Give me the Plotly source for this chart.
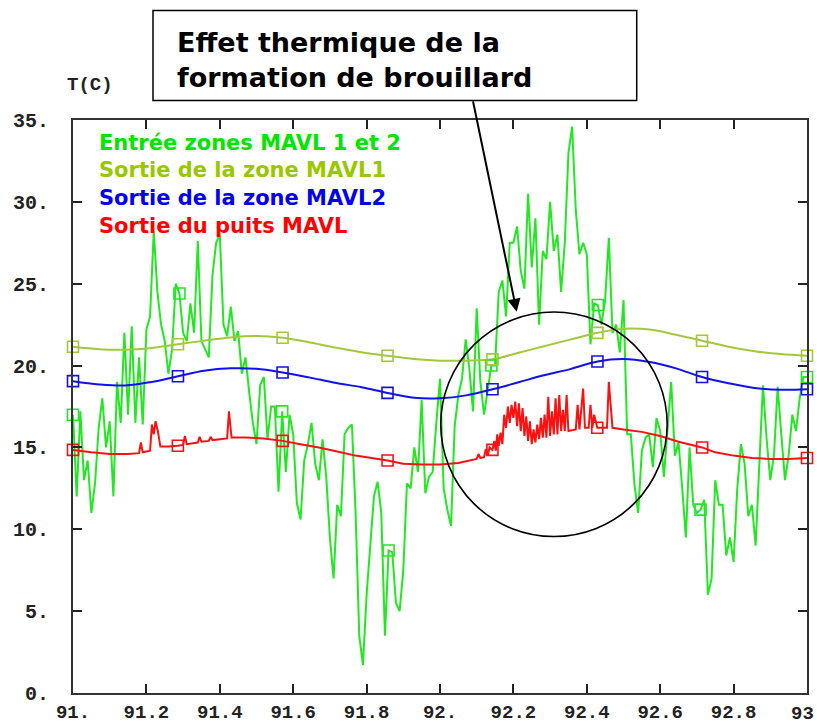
import numpy as np
import plotly.graph_objects as go

# ---- time axis (years) -------------------------------------------------
T_START, T_STEP = 91.0, 0.01

# Inlet temperature of zones MAVL 1 and 2 (°C), one value per time step
entree_zones = [
    17.0, 12.0, 17.2, 13.0, 14.2, 11.0, 12.8, 16.2, 18.0, 15.0,
    16.6, 12.0, 19.0, 16.5, 22.0, 17.0, 22.4, 16.5, 20.5, 16.4,
    22.2, 23.0, 28.2, 24.5, 22.5, 21.5, 19.5, 21.0, 25.0, 24.4,
    22.0, 21.5, 23.8, 22.0, 27.6, 21.5, 21.0, 20.5, 25.5, 27.5,
    28.0, 22.5, 21.8, 23.6, 21.5, 22.1, 19.5, 20.5, 18.4, 16.5,
    15.2, 18.8, 19.3, 15.5, 17.5, 17.5, 12.3, 17.2, 13.5, 17.0,
    15.8, 11.6, 10.6, 14.2, 15.2, 16.5, 14.0, 13.0, 15.5, 13.2,
    9.5, 7.0, 11.5, 10.8, 15.8, 16.2, 16.4, 11.0, 3.5, 1.7,
    6.0, 8.8, 12.0, 12.9, 11.0, 3.5, 8.7, 8.6, 5.5, 5.0,
    7.5, 12.8, 12.5, 15.0, 13.5, 17.9, 12.2, 13.2, 13.5, 16.5,
    19.2, 12.5, 11.2, 10.2, 16.3, 18.2, 19.2, 21.6, 19.8, 17.2,
    23.5, 19.0, 17.0, 18.5, 20.0, 20.0, 24.5, 25.2, 23.0, 27.5,
    27.5, 28.5, 25.8, 24.7, 30.5, 26.0, 29.0, 22.5, 27.0, 26.5,
    30.0, 27.0, 28.0, 24.5, 27.5, 33.0, 34.6, 29.5, 26.8, 27.5,
    26.8, 21.3, 23.8, 23.7, 22.5, 24.0, 27.8, 22.0, 22.5, 20.8,
    24.0, 15.8, 15.8, 12.7, 11.0, 14.8, 15.6, 15.8, 13.8, 16.8,
    16.0, 13.2, 16.0, 19.0, 14.5, 15.3, 12.5, 9.5, 15.0, 11.5,
    11.0, 11.2, 11.8, 6.0, 7.0, 13.0, 11.5, 11.5, 8.4, 9.5,
    8.0, 12.5, 15.2, 14.0, 10.8, 11.5, 9.0, 14.2, 18.8, 15.5,
    13.0, 14.5, 18.7, 15.8, 13.0, 14.5, 17.0, 16.0, 18.0, 19.3,
    19.3,
]
t_entree = T_START + T_STEP * np.arange(len(entree_zones))

# Outlets of zones MAVL1 / MAVL2, sampled every 1/14 year
t_zones = [91.000, 91.071, 91.143, 91.214, 91.286, 91.357, 91.429, 91.500,
           91.571, 91.643, 91.714, 91.786, 91.857, 91.929, 92.000, 92.071,
           92.143, 92.214, 92.286, 92.357, 92.429, 92.500, 92.571, 92.643,
           92.714, 92.786, 92.857, 92.929, 93.000]
sortie_mavl1 = [21.15, 21.0, 20.97, 21.08, 21.3, 21.52, 21.72, 21.8,
                21.7, 21.43, 21.1, 20.82, 20.6, 20.4, 20.3, 20.3,
                20.38, 20.78, 21.2, 21.6, 22.0, 22.25, 22.2, 21.88,
                21.52, 21.15, 20.88, 20.7, 20.6]
sortie_mavl2 = [19.05, 18.85, 18.78, 19.0, 19.35, 19.68, 19.83, 19.8,
                19.58, 19.28, 18.95, 18.68, 18.33, 18.03, 18.0, 18.18,
                18.55, 18.98, 19.42, 19.8, 20.25, 20.4, 20.22, 19.83,
                19.3, 18.92, 18.63, 18.52, 18.55]

# Well outlet (°C)
t_puits = [
    91.000, 91.05, 91.10, 91.15, 91.18, 91.185, 91.19, 91.21, 91.215, 91.22,
    91.225, 91.232, 91.238, 91.26, 91.2857, 91.30, 91.305, 91.31, 91.34, 91.345,
    91.35, 91.37, 91.375, 91.38, 91.42, 91.425, 91.432, 91.47, 91.52, 91.5714,
    91.62, 91.67, 91.72, 91.77, 91.8571, 91.90, 91.95, 92.00, 92.05, 92.10,
    92.105, 92.11, 92.12, 92.125, 92.13, 92.135, 92.1429, 92.148, 92.152, 92.156,
    92.16, 92.165, 92.17, 92.175, 92.18, 92.185, 92.19, 92.195, 92.20, 92.205,
    92.21, 92.215, 92.22, 92.225, 92.23, 92.235, 92.24, 92.245, 92.25, 92.255,
    92.26, 92.265, 92.27, 92.275, 92.28, 92.285, 92.29, 92.295, 92.30, 92.305,
    92.31, 92.315, 92.32, 92.325, 92.33, 92.335, 92.34, 92.345, 92.35, 92.36,
    92.37, 92.375, 92.38, 92.39, 92.395, 92.405, 92.41, 92.415, 92.42, 92.4286,
    92.44, 92.455, 92.46, 92.47, 92.50, 92.55, 92.60, 92.65, 92.7143, 92.75,
    92.80, 92.85, 92.90, 92.95, 93.00,
]
sortie_puits = [
    14.85, 14.7, 14.6, 14.6, 14.65, 15.3, 14.7, 14.8, 16.4, 15.8,
    16.6, 15.9, 15.05, 15.05, 15.1, 15.15, 15.7, 15.2, 15.3, 15.65,
    15.35, 15.4, 15.65, 15.45, 15.55, 17.2, 15.6, 15.6, 15.55, 15.4,
    15.2, 15.0, 14.75, 14.5, 14.2, 14.0, 13.95, 13.95, 14.05, 14.3,
    14.6, 14.35, 14.4, 14.9, 14.5, 15.0, 14.85, 15.4, 14.8, 15.8,
    15.1, 15.9, 15.2, 17.0, 16.2, 17.5, 16.5, 17.6, 16.8, 17.8,
    16.3, 17.7, 16.0, 17.4, 15.7, 16.9, 15.4, 16.6, 15.2, 16.1,
    15.3, 16.4, 15.5, 16.8, 15.6, 17.0, 15.6, 18.1, 15.7, 17.2,
    15.8, 18.0, 15.8, 18.2, 16.0, 17.3, 16.0, 18.2, 16.0, 16.05,
    16.1, 17.6, 16.1, 18.6, 16.2, 16.2, 17.6, 16.2, 17.0, 16.2,
    16.2, 16.2, 19.0, 16.2, 16.1, 15.95, 15.7, 15.35, 15.0, 14.7,
    14.5, 14.35, 14.3, 14.3, 14.35,
]

# Symbol positions along each curve (every 2/7 year)
MARKER_T = [91 + k * 2 / 7 for k in range(8)]

X_TICKS = [91.0, 91.2, 91.4, 91.6, 91.8, 92.0, 92.2, 92.4, 92.6, 92.8, 93.0]
X_LABELS = ["91.", "91.2", "91.4", "91.6", "91.8", "92.", "92.2", "92.4",
            "92.6", "92.8", "93"]
Y_TICKS = [0, 5, 10, 15, 20, 25, 30, 35]
Y_LABELS = ["0.", "5.", "10.", "15.", "20.", "25.", "30.", "35."]

SERIES = [
    ("Entrée zones MAVL 1 et 2", t_entree, entree_zones, "#22E822", "#00E600", False),
    ("Sortie de la zone MAVL1", t_zones, sortie_mavl1, "#A2C83C", "#99C800", True),
    ("Sortie de la zone MAVL2", t_zones, sortie_mavl2, "#1010F0", "#0000F0", True),
    ("Sortie du puits MAVL", t_puits, sortie_puits, "#FF1010", "#FF0000", False),
]

TEXT_FONT = "DejaVu Sans"
MONO_FONT = "Liberation Mono"
TICK_FONT_X = dict(family=MONO_FONT, size=19, color="#222", weight="bold")


def marker_points(xs, ys):
    xs = np.asarray(xs, dtype=float)
    ys = np.asarray(ys, dtype=float)
    idx = [int(np.argmin(np.abs(xs - t))) for t in MARKER_T]
    return xs[idx], ys[idx]


fig = go.Figure()
for name, xs, ys, col, _, smooth in SERIES:
    fig.add_trace(go.Scatter(
        x=xs, y=ys, mode="lines", name=name,
        line=dict(color=col, width=2, shape="spline" if smooth else "linear"),
        showlegend=False,
    ))
for name, xs, ys, col, _, _ in SERIES:
    mx, my = marker_points(xs, ys)
    fig.add_trace(go.Scatter(
        x=mx, y=my, mode="markers", showlegend=False, cliponaxis=False,
        marker=dict(symbol="square-open", size=11, color=col,
                    line=dict(width=1.6, color=col)),
    ))

# Coloured series labels in the upper-left corner of the plot
label_y = [0.9594, 0.912, 0.8636, 0.8148]
for (name, _, _, _, txtcol, _), yy in zip(SERIES, label_y):
    fig.add_annotation(
        x=0.0327, y=yy, xref="paper", yref="paper", text=name,
        showarrow=False, xanchor="left", yanchor="middle",
        font=dict(family=TEXT_FONT, size=21, color=txtcol, weight="bold"),
    )

# Axis title
fig.add_annotation(
    x=-0.0109, y=1.0604, xref="paper", yref="paper", text="T(C)",
    showarrow=False, xanchor="left", yanchor="middle",
    font=dict(family=MONO_FONT, size=19, color="#222", weight="bold"),
)

# Last x tick label, right-aligned so it stays inside the figure
fig.add_annotation(
    x=1.0125, y=0, xref="paper", yref="paper", text=X_LABELS[-1],
    showarrow=False, xanchor="right", yanchor="top", yshift=-8,
    font=TICK_FONT_X,
)

# Call-out box
fig.add_shape(type="rect", xref="paper", yref="paper",
              x0=0.109, x1=0.768, y0=1.034, y1=1.191,
              line=dict(color="black", width=1.5), fillcolor="white", layer="above")
fig.add_annotation(
    x=0.139, y=1.135, xref="paper", yref="paper", text="Effet thermique de la",
    showarrow=False, xanchor="left", yanchor="middle",
    font=dict(family=TEXT_FONT, size=27, color="black", weight="bold"),
)
fig.add_annotation(
    x=0.139, y=1.074, xref="paper", yref="paper", text="formation de brouillard",
    showarrow=False, xanchor="left", yanchor="middle",
    font=dict(family=TEXT_FONT, size=27, color="black", weight="bold"),
)
# Arrow from the box to the fog period
fig.add_annotation(
    x=92.209, y=23.29, xref="x", yref="y", text="",
    showarrow=True, ax=-44, ay=-212, axref="pixel", ayref="pixel",
    arrowhead=2, arrowsize=1.3, arrowwidth=2, arrowcolor="black", standoff=0,
)
# Circle around the fog period
fig.add_shape(type="circle", xref="x", yref="y",
              x0=92.002, x1=92.619, y0=9.555, y1=23.27,
              line=dict(color="black", width=1.6))

axis_common = dict(
    ticks="inside", ticklen=9, tickwidth=1.5, tickcolor="#222",
    showline=True, linecolor="#333", linewidth=2, mirror="ticks",
    showgrid=False, zeroline=False, ticklabeloverflow="allow",
    automargin=False,
)
fig.update_xaxes(range=[91, 93], tickvals=X_TICKS,
                 ticktext=X_LABELS[:-1] + [""],
                 ticklabelstandoff=0, tickfont=TICK_FONT_X,
                 **axis_common)
fig.update_yaxes(range=[0, 35], tickvals=Y_TICKS, ticktext=Y_LABELS,
                 ticklabelstandoff=18,
                 tickfont=dict(family=MONO_FONT, size=20, color="#222", weight="bold"),
                 **axis_common)

fig.update_layout(
    width=817, height=726,
    margin=dict(l=73, r=10, t=120, b=33, pad=0, autoexpand=False),
    plot_bgcolor="white", paper_bgcolor="white",
    showlegend=False,
)

fig.write_html("out.html")
